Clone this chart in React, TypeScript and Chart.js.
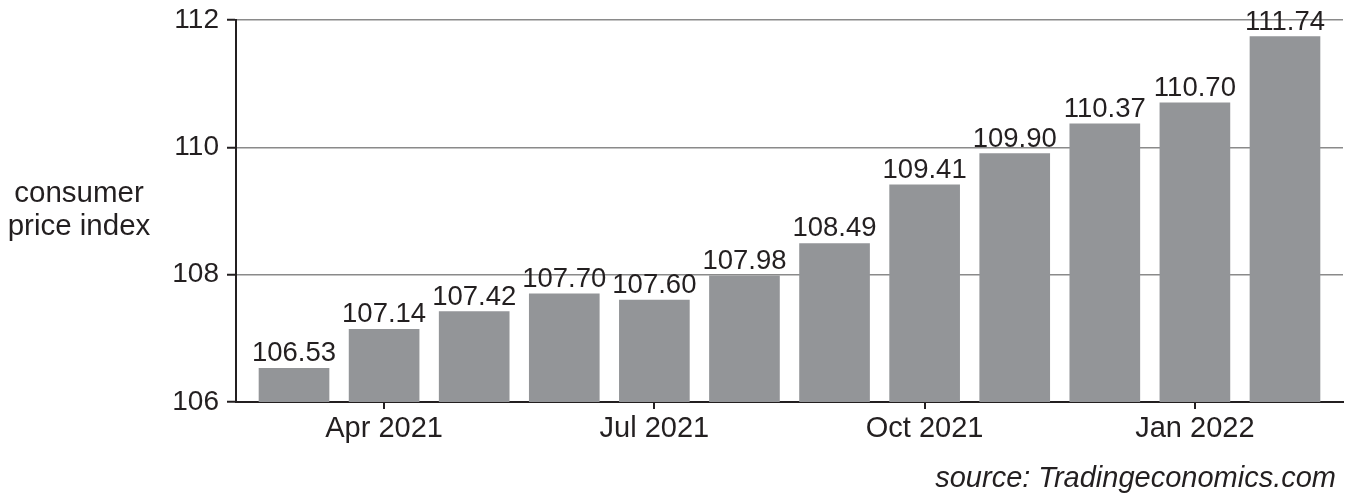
import React, { useEffect, useRef } from "react";
import { Chart, registerables } from "chart.js";

Chart.register(...registerables);

const months = [
  "Mar 2021", "Apr 2021", "May 2021", "Jun 2021", "Jul 2021", "Aug 2021",
  "Sep 2021", "Oct 2021", "Nov 2021", "Dec 2021", "Jan 2022", "Feb 2022",
];
const cpiValues = [106.53, 107.14, 107.42, 107.7, 107.6, 107.98, 108.49, 109.41, 109.9, 110.37, 110.7, 111.74];
const xTickIndices = [1, 4, 7, 10];
const yTickValues = [106, 108, 110, 112];
const yAxisTitle = ["consumer", "price index"];
const sourceNote = "source: Tradingeconomics.com";

const FONT = '"Liberation Sans", Arial, Helvetica, sans-serif';
const TEXT = "#231f20";
const BAR = "#939598";
const GRID = "#8a8a8a";

export default function App() {
  const ref = useRef<HTMLCanvasElement | null>(null);

  useEffect(() => {
    document.body.style.margin = "0";
    const canvas = ref.current;
    if (!canvas) return;

    const labelPlugin = {
      id: "valueLabels",
      afterDatasetsDraw(chart: any) {
        const ctx = chart.ctx;
        const meta = chart.getDatasetMeta(0);
        ctx.save();
        ctx.font = `27.5px ${FONT}`;
        ctx.fillStyle = TEXT;
        ctx.textAlign = "center";
        ctx.textBaseline = "alphabetic";
        meta.data.forEach((bar: any, i: number) => {
          ctx.fillText(cpiValues[i].toFixed(2), bar.x, bar.y - 7);
        });
        ctx.restore();
      },
      afterDraw(chart: any) {
        const ctx = chart.ctx;
        ctx.save();
        ctx.fillStyle = TEXT;
        ctx.font = `29.5px ${FONT}`;
        ctx.textAlign = "center";
        ctx.textBaseline = "alphabetic";
        ctx.fillText(yAxisTitle[0], 79, 202);
        ctx.fillText(yAxisTitle[1], 79, 235);
        ctx.font = `italic 29px ${FONT}`;
        ctx.textAlign = "right";
        ctx.fillText(sourceNote, 1336, 487);
        ctx.restore();
      },
    };

    const chart = new Chart(canvas, {
      type: "bar",
      data: {
        datasets: [
          {
            data: cpiValues.map((v, i) => ({ x: i, y: v })),
            backgroundColor: BAR,
            borderWidth: 0,
            barThickness: 70,
          },
        ],
      },
      options: {
        animation: false,
        responsive: false,
        maintainAspectRatio: false,
        layout: { padding: { top: 20, right: 6, left: 0, bottom: 0 } },
        plugins: {
          legend: { display: false },
          tooltip: { enabled: false },
        },
        scales: {
          x: {
            type: "linear",
            offset: false,
            min: -0.644,
            max: 11.644,
            afterBuildTicks: (scale: any) => {
              scale.ticks = xTickIndices.map((v) => ({ value: v }));
            },
            afterFit: (scale: any) => {
              scale.height = 93;
              scale.paddingLeft = 0;
              scale.paddingRight = 0;
            },
            ticks: {
              callback: (v: any) => months[Number(v)] ?? "",
              font: { family: FONT, size: 29 },
              color: TEXT,
              padding: 3,
              maxRotation: 0,
              autoSkip: false,
            },
            grid: {
              offset: false,
              drawOnChartArea: false,
              drawTicks: true,
              tickLength: 7,
              color: TEXT,
              tickColor: TEXT,
              lineWidth: 2,
              tickWidth: 2,
            },
            border: { display: true, color: TEXT, width: 2 },
          },
          y: {
            min: 106,
            max: 112,
            afterBuildTicks: (scale: any) => {
              scale.ticks = yTickValues.map((v) => ({ value: v }));
            },
            afterFit: (scale: any) => {
              scale.width = 236;
              scale.paddingTop = 0;
              scale.paddingBottom = 0;
            },
            ticks: {
              callback: (v: any) => String(v),
              font: { family: FONT, size: 28 },
              color: TEXT,
              padding: 8,
            },
            grid: {
              drawOnChartArea: true,
              drawTicks: true,
              tickLength: 9,
              color: GRID,
              tickColor: TEXT,
              lineWidth: 1.5,
              tickWidth: 2,
            },
            border: { display: true, color: TEXT, width: 2 },
          },
        },
      },
      plugins: [labelPlugin],
    } as any);

    return () => chart.destroy();
  }, []);

  return (
    <div style={{ width: 1349, height: 495 }}>
      <canvas ref={ref} width={1349} height={495} style={{ display: "block" }} />
    </div>
  );
}
